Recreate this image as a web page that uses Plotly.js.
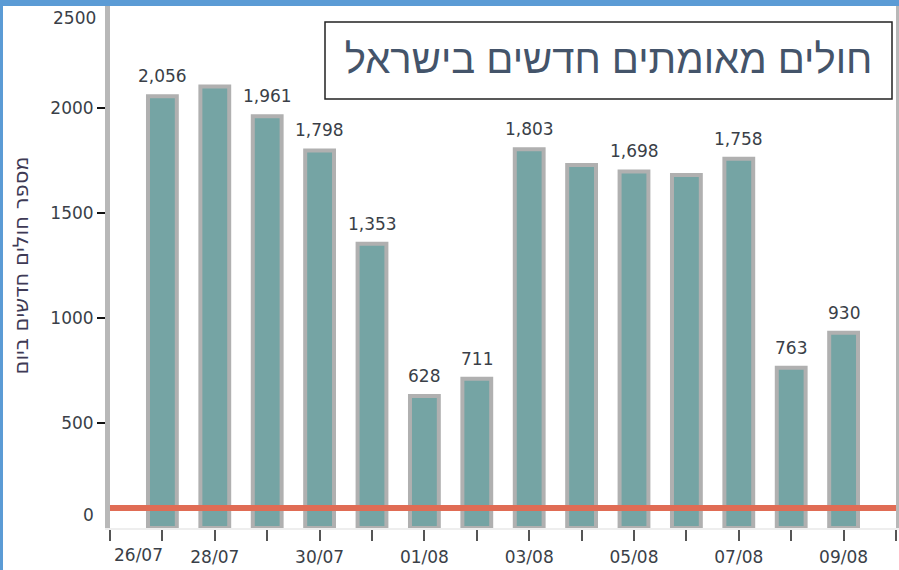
<!DOCTYPE html>
<html>
<head>
<meta charset="utf-8">
<script src="https://cdn.plot.ly/plotly-3.0.1.min.js"></script>
<style>
  html, body { margin: 0; padding: 0; background: #ffffff; overflow: hidden; }
  #wrap { position: relative; width: 899px; height: 570px; }
  #chart { position: absolute; left: 0; top: 0; width: 899px; height: 570px; }
  .edge { position: absolute; pointer-events: none; }
</style>
</head>
<body>
<div id="wrap">
  <div id="chart"></div>
  <div class="edge" style="left:0;top:0;width:899px;height:6px;background:#5B9BD5;"></div>
  <div class="edge" style="left:0;top:0;width:3px;height:570px;background:#5B9BD5;"></div>
</div>
<script>
// ---- data ----
const days = ['2020-07-27','2020-07-28','2020-07-29','2020-07-30','2020-07-31','2020-08-01','2020-08-02',
              '2020-08-03','2020-08-04','2020-08-05','2020-08-06','2020-08-07','2020-08-08','2020-08-09'];
const newCases = [2056, 2102, 1961, 1798, 1353, 628, 711, 1803, 1729, 1698, 1681, 1758, 763, 930];
const barLabels = ['2,056','','1,961','1,798','1,353','628','711','1,803','','1,698','','1,758','763','930'];
const tickDays = ['2020-07-26','2020-07-27','2020-07-28','2020-07-29','2020-07-30','2020-07-31','2020-08-01','2020-08-02',
                  '2020-08-03','2020-08-04','2020-08-05','2020-08-06','2020-08-07','2020-08-08','2020-08-09','2020-08-10'];
const tickLabels = ['26/07','','28/07','','30/07','','01/08','','03/08','','05/08','','07/08','','09/08',''];
const yTicks = [0, 500, 1000, 1500, 2000, 2500];
const refLineX = ['2020-07-26','2020-08-10'];
const refLineY = [95, 95];
const chartTitle = 'חולים מאומתים חדשים בישראל';
const yTitle = 'מספר חולים חדשים ביום';

// ---- build ----
const labelFont = {family: 'DejaVu Sans, sans-serif', size: 17, color: '#3a3f48'};
const yMax = yTicks[yTicks.length - 1];

const annotations = [];
barLabels.forEach((t, i) => {
  if (t) annotations.push({x: days[i], y: newCases[i], text: t, showarrow: false,
    xref: 'x', yref: 'y', yanchor: 'middle', yshift: 20, font: labelFont});
});
// edge y labels (drawn inward like the original)
annotations.push({xref: 'paper', x: 0, xanchor: 'right', xshift: -12, yref: 'y', y: yTicks[yTicks.length-1],
  yanchor: 'middle', yshift: -15, text: String(yTicks[yTicks.length-1]), showarrow: false, font: labelFont});
annotations.push({xref: 'paper', x: 0, xanchor: 'right', xshift: -14, yref: 'y', y: yTicks[0],
  yanchor: 'middle', yshift: 13, text: String(yTicks[0]), showarrow: false, font: labelFont});
// first date label, left aligned at axis start
annotations.push({xref: 'x', x: tickDays[0], xanchor: 'left', xshift: 2, yref: 'paper', y: 0,
  yanchor: 'middle', yshift: -27, text: tickLabels[0], showarrow: false, font: labelFont});

const traces = [
  {type: 'bar', x: days, y: newCases, hoverinfo: 'x+y',
   marker: {color: '#75A4A4', line: {color: '#b0b0b0', width: 4}}},
  {type: 'scatter', mode: 'lines', x: refLineX, y: refLineY, hoverinfo: 'skip',
   line: {color: '#E06C55', width: 6}, cliponaxis: false}
];

const layout = {
  width: 899, height: 570,
  margin: {l: 110, r: 3, t: 3, b: 42},
  paper_bgcolor: '#ffffff', plot_bgcolor: '#ffffff',
  showlegend: false,
  bargap: 0.45,
  title: {text: chartTitle, x: 0.677, xanchor: 'center', y: 0.896, yanchor: 'middle',
          font: {family: 'Liberation Sans, Arial, sans-serif', size: 40, color: '#44546A'}},
  xaxis: {type: 'date', range: [tickDays[0], tickDays[tickDays.length-1]],
          tickmode: 'array', tickvals: tickDays, ticktext: tickLabels.map((t, i) => i === 0 ? '' : t),
          ticks: 'outside', ticklen: 11, tickwidth: 2, tickcolor: '#555555',
          showgrid: false, zeroline: false, showline: true, linecolor: '#eeeeee', linewidth: 2,
          tickfont: labelFont, ticklabelstandoff: 2, fixedrange: true},
  yaxis: {range: [0, yMax], tickmode: 'array', tickvals: yTicks.slice(1, -1),
          ticks: 'outside', ticklen: 8, tickwidth: 2, tickcolor: '#111111',
          showgrid: false, zeroline: false, showline: true, linecolor: '#b8b8b8', linewidth: 5,
          mirror: true, tickfont: labelFont, fixedrange: true,
          title: {text: yTitle, standoff: 17,
                  font: {family: 'DejaVu Sans, sans-serif', size: 21, color: '#3e3a55'}}},
  shapes: [{type: 'rect', xref: 'paper', yref: 'paper',
            x0: (325-110)/786, x1: (892-110)/786, y0: (528-99)/525, y1: (528-22)/525,
            line: {color: '#222222', width: 1.5}, fillcolor: 'rgba(0,0,0,0)'}],
  annotations: annotations
};

Plotly.newPlot('chart', traces, layout, {displayModeBar: false, staticPlot: true});
</script>
</body>
</html>
